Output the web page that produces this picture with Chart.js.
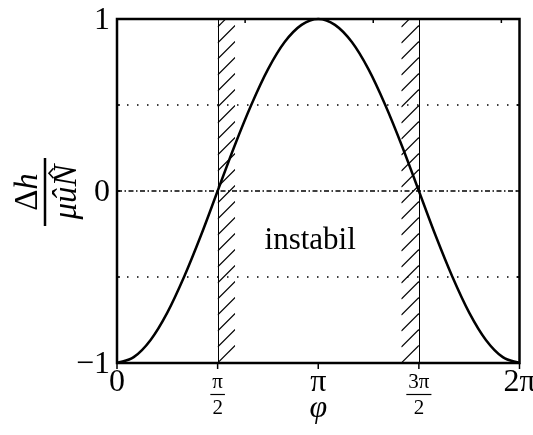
<!DOCTYPE html>
<html>
<head>
<meta charset="utf-8">
<script src="https://cdn.jsdelivr.net/npm/chart.js@4.4.0/dist/chart.umd.min.js"></script>
<style>
  html, body { margin: 0; background: #fff; }
  #wrap { width: 533px; height: 435px; }
</style>
</head>
<body>
<div id="wrap"><canvas id="chart"></canvas></div>
<script>
// phi is given in units of pi
const phi = [0, 0.083, 0.167, 0.25, 0.333, 0.417, 0.5, 0.583, 0.667, 0.75, 0.833, 0.917, 1,
  1.083, 1.167, 1.25, 1.333, 1.417, 1.5, 1.583, 1.667, 1.75, 1.833, 1.917, 2];
const deltaH = [-1, -0.966, -0.866, -0.707, -0.5, -0.259, 0, 0.259, 0.5, 0.707, 0.866, 0.966, 1,
  0.966, 0.866, 0.707, 0.5, 0.259, 0, -0.259, -0.5, -0.707, -0.866, -0.966, -1];

const xTicks = [0, 0.5, 1, 1.5, 2];
const xTickLabels = [['0'], ['π', '2'], ['π'], ['3π', '2'], ['2π']];
const yTicks = [-1, -0.5, 0, 0.5, 1];
const yTickLabels = ['−1', '', '0', '', '1'];
const dottedLevels = [-0.5, 0.5];
const dashDotLevels = [0];
const hatchBands = [[0.5, 0.587], [1.413, 1.5]];
const edgeLines = [0.5, 1.5];
const topTicksRad = [2, 4, 6];
const regionLabel = 'instabil';

const SERIF = '"Liberation Serif", "DejaVu Serif", serif';

// draws a row of [text, italic] pieces centred on x=0
const drawPieces = (ctx, pieces, size, yPos) => {
  const fonts = pieces.map(([, it]) => (it ? 'italic ' : '') + size + 'px ' + SERIF);
  const widths = pieces.map(([t], i) => { ctx.font = fonts[i]; return ctx.measureText(t).width; });
  const total = widths.reduce((s, w) => s + w, 0);
  let cx = -total / 2;
  const starts = [];
  ctx.textAlign = 'left';
  pieces.forEach(([t], i) => {
    ctx.font = fonts[i];
    ctx.fillText(t, cx, yPos);
    starts.push([cx, widths[i]]);
    cx += widths[i];
  });
  return starts;
};

const decor = {
  id: 'decor',
  beforeDatasetsDraw(chart) {
    const { ctx, chartArea: a, scales: { x, y } } = chart;
    ctx.save();
    ctx.strokeStyle = '#000';

    // hatched bands
    hatchBands.forEach(([from, to]) => {
      const x0 = x.getPixelForValue(from);
      const x1 = x.getPixelForValue(to);
      const w = x1 - x0;
      ctx.save();
      ctx.beginPath();
      ctx.rect(x0, a.top, w, a.bottom - a.top);
      ctx.clip();
      ctx.lineWidth = 1.1;
      for (let yy = a.bottom; yy > a.top - 20; yy -= 16) {
        ctx.beginPath();
        ctx.moveTo(x0, yy);
        ctx.lineTo(x1, yy - w);
        ctx.stroke();
      }
      ctx.restore();
    });

    // thin vertical lines at the band edges
    ctx.lineWidth = 1;
    edgeLines.forEach(v => {
      const px = Math.round(x.getPixelForValue(v)) + 0.5;
      ctx.beginPath();
      ctx.moveTo(px, a.top);
      ctx.lineTo(px, a.bottom);
      ctx.stroke();
    });

    // dotted levels
    ctx.lineWidth = 1.5;
    ctx.setLineDash([1.5, 8.5]);
    dottedLevels.forEach(v => {
      const py = y.getPixelForValue(v);
      ctx.beginPath();
      ctx.moveTo(a.left, py);
      ctx.lineTo(a.right, py);
      ctx.stroke();
    });

    // dash-dot level
    ctx.lineWidth = 1.3;
    ctx.setLineDash([5, 2.5, 1.5, 2.5]);
    dashDotLevels.forEach(v => {
      const py = y.getPixelForValue(v);
      ctx.beginPath();
      ctx.moveTo(a.left, py);
      ctx.lineTo(a.right, py);
      ctx.stroke();
    });
    ctx.restore();
  },
  afterDatasetsDraw(chart) {
    const { ctx, chartArea: a, scales: { x, y } } = chart;
    ctx.save();
    ctx.strokeStyle = '#000';
    ctx.fillStyle = '#000';

    // frame
    ctx.lineWidth = 2.5;
    ctx.strokeRect(a.left, a.top, a.right - a.left, a.bottom - a.top);

    // ticks
    ctx.lineWidth = 1.5;
    xTicks.forEach(v => {
      const px = x.getPixelForValue(v);
      ctx.beginPath();
      ctx.moveTo(px, a.bottom);
      ctx.lineTo(px, a.bottom + 6);
      ctx.stroke();
    });
    topTicksRad.forEach(r => {
      const px = x.getPixelForValue(r / Math.PI);
      ctx.beginPath();
      ctx.moveTo(px, a.top);
      ctx.lineTo(px, a.top + 4);
      ctx.stroke();
    });
    yTicks.forEach(v => {
      const py = y.getPixelForValue(v);
      ctx.beginPath();
      ctx.moveTo(a.left, py);
      ctx.lineTo(a.left + 3, py);
      ctx.moveTo(a.right, py);
      ctx.lineTo(a.right - 3, py);
      ctx.stroke();
    });

    // y tick labels
    ctx.font = '32px ' + SERIF;
    ctx.textAlign = 'right';
    ctx.textBaseline = 'middle';
    yTicks.forEach((v, i) => {
      if (yTickLabels[i]) ctx.fillText(yTickLabels[i], a.left - 7, y.getPixelForValue(v) + 2);
    });

    // x tick labels
    ctx.textAlign = 'center';
    xTicks.forEach((v, i) => {
      const px = x.getPixelForValue(v);
      const lab = xTickLabels[i];
      if (lab.length === 1) {
        ctx.font = '32px ' + SERIF;
        ctx.fillText(lab[0], px, a.bottom + 20);
      } else {
        ctx.font = '21px ' + SERIF;
        ctx.fillText(lab[0], px, a.bottom + 19);
        ctx.fillText(lab[1], px, a.bottom + 45);
        const w = ctx.measureText(lab[0]).width + 4;
        ctx.lineWidth = 1.2;
        ctx.beginPath();
        ctx.moveTo(px - w / 2, a.bottom + 31.5);
        ctx.lineTo(px + w / 2, a.bottom + 31.5);
        ctx.stroke();
      }
    });

    // x axis title
    ctx.font = 'italic 32px ' + SERIF;
    ctx.fillText('φ', x.getPixelForValue(1), a.bottom + 46);

    // region label
    ctx.font = '31px ' + SERIF;
    ctx.fillText(regionLabel, x.getPixelForValue(0.96), y.getPixelForValue(-0.29));

    // y axis title: fraction, rotated
    ctx.save();
    ctx.translate(45, y.getPixelForValue(0) + 1);
    ctx.rotate(-Math.PI / 2);
    ctx.textBaseline = 'alphabetic';
    drawPieces(ctx, [['Δ', false], ['h', true]], 33, -8);
    const den = drawPieces(ctx, [['μ', true], ['û', true], ['N', true]], 33, 31);
    // circumflex over N
    const [nx, nw] = den[2];
    const hc = nx + nw * 0.6;
    ctx.lineWidth = 1.6;
    ctx.beginPath();
    ctx.moveTo(hc - 5, 8.5);
    ctx.lineTo(hc, 4);
    ctx.lineTo(hc + 5, 8.5);
    ctx.stroke();
    ctx.lineWidth = 2.5;
    ctx.beginPath();
    ctx.moveTo(-34, 0);
    ctx.lineTo(34, 0);
    ctx.stroke();
    ctx.restore();

    ctx.restore();
  }
};

new Chart(document.getElementById('chart'), {
  type: 'line',
  data: {
    datasets: [{
      data: phi.map((p, i) => ({ x: p, y: deltaH[i] })),
      borderColor: '#000',
      borderWidth: 2.5,
      pointRadius: 0,
      cubicInterpolationMode: 'monotone',
      fill: false,
      clip: false
    }]
  },
  options: {
    responsive: true,
    maintainAspectRatio: false,
    animation: false,
    events: [],
    layout: { padding: { left: 117, right: 13.5, top: 19, bottom: 72 } },
    plugins: { legend: { display: false }, tooltip: { enabled: false } },
    scales: {
      x: { type: 'linear', min: 0, max: 2, display: false },
      y: { type: 'linear', min: -1, max: 1, display: false }
    }
  },
  plugins: [decor]
});
</script>
</body>
</html>
